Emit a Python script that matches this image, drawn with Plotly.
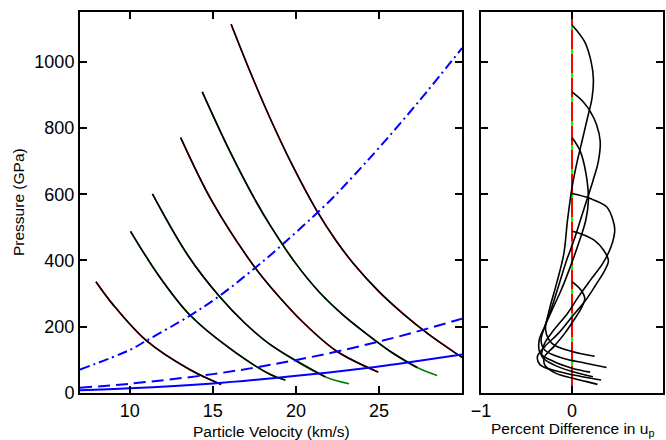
import plotly.graph_objects as go

# ---------------- data ----------------
# Left panel: particle velocity (km/s) vs pressure (GPa)
up1 = [7.96, 9.0, 11.0, 13.6, 15.5]
p1 = [336, 266, 158, 71, 26]
up2 = [10.04, 11.8, 13.6, 15.98, 18.46, 19.36]
p2 = [488, 350, 236, 136, 56, 39]
up3 = [11.36, 13.5, 15.4, 16.9, 18.46, 21.76, 23.2]
p3 = [601, 415, 291, 212, 146, 49, 28]
up4 = [13.06, 14.98, 17.5, 18.46, 20.46, 22.46, 24.96]
p4 = [771, 576, 381, 321, 212, 126, 63]
up5 = [14.36, 15.98, 17.6, 18.46, 19.93, 21.4, 22.9, 24.4, 25.85, 27.3, 28.5]
p5 = [909, 734, 578, 505, 395, 305, 233, 173, 120, 77, 53]
up6 = [16.1, 17.2, 18.44, 19.8, 21.28, 22.4, 23.46, 25.0, 26.46, 28.0, 29.66, 30.0]
p6 = [1113, 975, 830, 686, 548, 461, 391, 306, 239, 177, 119, 108]

curve_up = [up1, up2, up3, up4, up5, up6]
curve_p = [p1, p2, p3, p4, p5, p6]
curve_color = ["red", "green", "green", "red", "green", "red"]
black_end = [15.5, 19.36, 21.76, 24.96, 27.3, 30.0]

# Blue reference curves
ub_solid = [7, 10, 15, 18.46, 22, 24.4, 26, 30]
pb_solid = [8, 14, 29, 44, 62, 76, 87, 116]
ub_dash = [7, 10, 15, 18.46, 22, 24.4, 26, 30]
pb_dash = [16, 28, 57, 85, 120, 148, 168, 224]
ub_dashdot = [7, 10, 11, 13.6, 15.4, 17.5, 18.46, 21.96, 23.46, 25, 27.4, 30]
pb_dashdot = [71, 130, 158, 233, 293, 376, 416, 576, 655, 740, 880, 1041]

# Right panel: percent difference in u_p vs pressure
pd1 = [336, 310, 285, 255, 220, 180, 140, 110, 85, 60, 45, 35, 26]
d1 = [0, 0.10, 0.14, 0.10, 0.02, -0.08, -0.20, -0.30, -0.30, -0.18, 0.0, 0.15, 0.28]
pd2 = [488, 480, 460, 430, 400, 370, 330, 280, 230, 180, 140, 110, 85, 65, 50, 39]
d2 = [0, 0.10, 0.25, 0.35, 0.40, 0.36, 0.27, 0.15, 0.0, -0.15, -0.30, -0.38, -0.35, -0.15, 0.10, 0.32]
pd3 = [602, 587, 562, 522, 492, 442, 392, 340, 290, 240, 190, 150, 110, 85, 65, 49]
d3 = [0, 0.20, 0.38, 0.45, 0.47, 0.43, 0.34, 0.20, 0.07, -0.05, -0.20, -0.30, -0.33, -0.20, 0.0, 0.23]
pd4 = [771, 730, 660, 580, 520, 450, 380, 310, 250, 200, 160, 120, 95, 75, 63]
d4 = [0, 0.09, 0.155, 0.18, 0.15, 0.07, -0.02, -0.12, -0.22, -0.30, -0.36, -0.35, -0.20, 0.0, 0.20]
pd5 = [909, 880, 850, 810, 760, 700, 640, 580, 520, 460, 400, 330, 260, 200, 160, 130, 105, 90, 77]
d5 = [0, 0.12, 0.20, 0.27, 0.31, 0.29, 0.23, 0.16, 0.09, 0.02, -0.06, -0.14, -0.22, -0.30, -0.34, -0.30, -0.10, 0.15, 0.38]
pd6 = [1111, 1060, 1000, 946, 890, 830, 760, 690, 620, 520, 420, 330, 250, 190, 150, 125, 111]
d6 = [0, 0.14, 0.21, 0.235, 0.22, 0.17, 0.11, 0.05, 0.0, -0.05, -0.09, -0.17, -0.25, -0.29, -0.22, 0.0, 0.25]

diff_p = [pd1, pd2, pd3, pd4, pd5, pd6]
diff_d = [d1, d2, d3, d4, d5, d6]

ref_span = [0, 1150]
green_span = [1111, 26]

x_ticks_left = [10, 15, 20, 25]
y_ticks = [0, 200, 400, 600, 800, 1000]
x_ticks_right = [-1, 0, 1]

x_title_left = "Particle Velocity (km/s)"
y_title_left = "Pressure (GPa)"
x_title_right = "Percent Difference in u<sub>p</sub>"

# ---------------- figure ----------------
fig = go.Figure()
FONT = "Liberation Sans, Arial, Helvetica, sans-serif"

for u, p, c in zip(curve_up, curve_p, curve_color):
    fig.add_trace(go.Scatter(x=u, y=p, mode="lines", xaxis="x", yaxis="y",
                             line=dict(color=c, width=1.6, shape="spline"),
                             hoverinfo="skip", showlegend=False))
for u, p, e in zip(curve_up, curve_p, black_end):
    uu = [a for a in u if a <= e]
    pp = [b for a, b in zip(u, p) if a <= e]
    fig.add_trace(go.Scatter(x=uu, y=pp, mode="lines", xaxis="x", yaxis="y",
                             line=dict(color="black", width=1.6, shape="spline"),
                             hoverinfo="skip", showlegend=False))

fig.add_trace(go.Scatter(x=ub_solid, y=pb_solid, mode="lines",
                         line=dict(color="#0000ff", width=2, shape="spline"),
                         hoverinfo="skip", showlegend=False))
fig.add_trace(go.Scatter(x=ub_dash, y=pb_dash, mode="lines",
                         line=dict(color="#0000ff", width=2, shape="spline", dash="12px,6px"),
                         hoverinfo="skip", showlegend=False))
fig.add_trace(go.Scatter(x=ub_dashdot, y=pb_dashdot, mode="lines",
                         line=dict(color="#0000ff", width=2, shape="spline", dash="10px,4px,2px,4px"),
                         hoverinfo="skip", showlegend=False))

fig.add_trace(go.Scatter(x=[0, 0], y=ref_span, mode="lines", xaxis="x2", yaxis="y2",
                         line=dict(color="red", width=2),
                         hoverinfo="skip", showlegend=False))
fig.add_trace(go.Scatter(x=[0, 0], y=green_span, mode="lines", xaxis="x2", yaxis="y2",
                         line=dict(color="#00ff00", width=2, dash="5px,19px"),
                         hoverinfo="skip", showlegend=False))
for p, d in zip(diff_p, diff_d):
    fig.add_trace(go.Scatter(x=d, y=p, mode="lines", xaxis="x2", yaxis="y2",
                             line=dict(color="black", width=1.6, shape="spline"),
                             hoverinfo="skip", showlegend=False))

W, H = 666, 440
axis_common = dict(showline=True, linecolor="black", linewidth=2, mirror="ticks",
                   ticks="inside", ticklen=7, tickwidth=2, tickcolor="black",
                   showgrid=False, zeroline=False, automargin=False,
                   tickfont=dict(family=FONT, size=18, color="black"))
TITLE_FONT = dict(family=FONT, size=15.5, color="black")

fig.update_layout(
    width=W, height=H,
    margin=dict(l=0, r=0, t=0, b=0),
    paper_bgcolor="white", plot_bgcolor="white",
    showlegend=False,
    xaxis=dict(axis_common, domain=[80 / W, 462 / W], range=[7, 30],
               tickvals=x_ticks_left, anchor="y"),
    yaxis=dict(axis_common, domain=[(H - 393) / H, (H - 12) / H], range=[0, 1150],
               tickvals=y_ticks, anchor="x"),
    xaxis2=dict(axis_common, domain=[481 / W, 663 / W], range=[-1, 1],
                tickvals=x_ticks_right, anchor="y2"),
    yaxis2=dict(axis_common, domain=[(H - 393) / H, (H - 12) / H], range=[0, 1150],
                tickvals=y_ticks, anchor="x2", showticklabels=False),
    annotations=[
        dict(text=x_title_left, xref="paper", yref="paper", x=271 / W, y=(H - 421) / H,
             xanchor="center", yanchor="top", showarrow=False, font=TITLE_FONT),
        dict(text=x_title_right, xref="paper", yref="paper", x=572 / W, y=(H - 418) / H,
             xanchor="center", yanchor="top", showarrow=False, font=TITLE_FONT),
        dict(text=y_title_left, xref="paper", yref="paper", x=18 / W, y=(H - 202) / H,
             xanchor="center", yanchor="middle", textangle=-90, showarrow=False, font=TITLE_FONT),
    ],
)

fig.write_html("out.html", config={"displayModeBar": False})
